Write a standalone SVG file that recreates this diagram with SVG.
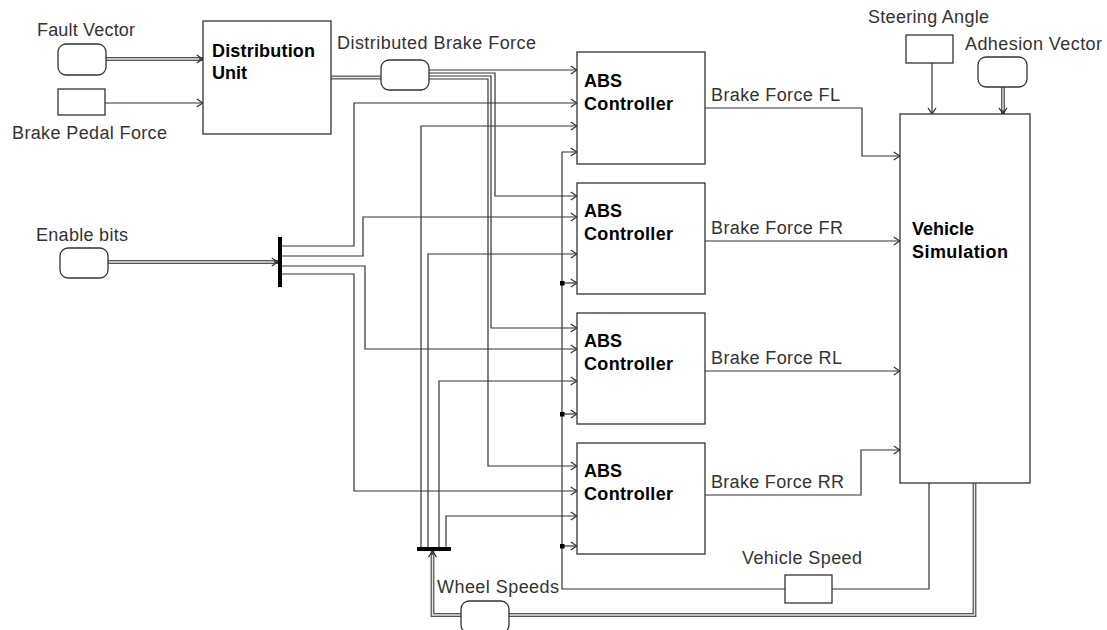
<svg xmlns="http://www.w3.org/2000/svg" width="1107" height="630" viewBox="0 0 1107 630">
<defs>
<marker id="arr" markerUnits="userSpaceOnUse" markerWidth="10" markerHeight="10" viewBox="0 0 10 10" refX="9.2" refY="5" orient="auto">
<path d="M3,1 L9,5 L3,9" fill="none" stroke="#333" stroke-width="1.2"/>
</marker>
</defs>
<style>
.bg{fill:#fff}
.blk{fill:#fff;stroke:#333;stroke-width:1.3}
.w{fill:none;stroke:#333;stroke-width:1.2}
.dbo{fill:none;stroke:#555;stroke-width:3.8}
.dbi{fill:none;stroke:#e6e6e6;stroke-width:1.3}
.bar{fill:#000}
.dot{fill:#000}
.lbl{font-family:"Liberation Sans",Arial,sans-serif;font-size:18px;fill:#333}
.bt{font-family:"Liberation Sans",Arial,sans-serif;font-size:18px;font-weight:bold;fill:#000}
</style>
<rect class="bg" x="0" y="0" width="1107" height="630"/>

<g id="connectors">
<path class="dbo" d="M106,59 H203" marker-end="url(#arr)"/>
<path class="dbi" d="M106,59 H199"/>
<path class="w" d="M105,103 H203" marker-end="url(#arr)"/>
<path class="dbo" d="M331,77.5 H381"/>
<path class="dbi" d="M331,77.5 H381"/>
<path class="w" d="M429,70 H577" marker-end="url(#arr)"/>
<path class="w" d="M429,73 H495 V196 H577" marker-end="url(#arr)"/>
<path class="w" d="M429,76 H491 V328 H577" marker-end="url(#arr)"/>
<path class="w" d="M429,79 H488 V466 H577" marker-end="url(#arr)"/>
<path class="dbo" d="M108,262 H278" marker-end="url(#arr)"/>
<path class="dbi" d="M108,262 H274"/>
<path class="w" d="M282,246 H354 V103 H577" marker-end="url(#arr)"/>
<path class="w" d="M282,256 H363 V217 H577" marker-end="url(#arr)"/>
<path class="w" d="M282,266 H365 V349 H577" marker-end="url(#arr)"/>
<path class="w" d="M282,274 H354 V491 H577" marker-end="url(#arr)"/>
<path class="w" d="M421,547 V126 H577" marker-end="url(#arr)"/>
<path class="w" d="M428,547 V254 H577" marker-end="url(#arr)"/>
<path class="w" d="M439,547 V381 H577" marker-end="url(#arr)"/>
<path class="w" d="M446,547 V516 H577" marker-end="url(#arr)"/>
<path class="dbo" d="M974.5,483 V615 H509"/>
<path class="dbi" d="M974.5,483 V615 H509"/>
<path class="dbo" d="M461,615 H432.5 V551" marker-end="url(#arr)"/>
<path class="dbi" d="M461,615 H432.5 V555"/>
<path class="w" d="M929,483 V589 H832"/>
<path class="w" d="M785,589 H562 V152 H577" marker-end="url(#arr)"/>
<path class="w" d="M562,283 H577" marker-end="url(#arr)"/>
<path class="w" d="M562,414 H577" marker-end="url(#arr)"/>
<path class="w" d="M562,546 H577" marker-end="url(#arr)"/>
<rect class="dot" x="560" y="281" width="4.5" height="4.5"/>
<rect class="dot" x="560" y="412" width="4.5" height="4.5"/>
<rect class="dot" x="560" y="544" width="4.5" height="4.5"/>
<path class="w" d="M705,108 H862 V156 H900" marker-end="url(#arr)"/>
<path class="w" d="M705,241 H900" marker-end="url(#arr)"/>
<path class="w" d="M705,371 H900" marker-end="url(#arr)"/>
<path class="w" d="M705,495 H861 V450 H900" marker-end="url(#arr)"/>
<path class="w" d="M932,63 V114" marker-end="url(#arr)"/>
<path class="dbo" d="M1003,87 V114" marker-end="url(#arr)"/>
<path class="dbi" d="M1003,87 V110"/>
</g>

<g id="fault-vector">
<rect class="blk" x="58" y="44" width="48" height="31" rx="8"/>
<text class="lbl" x="37" y="36" textLength="98">Fault Vector</text>
</g>
<g id="brake-pedal-force">
<rect class="blk" x="58" y="89" width="47" height="26"/>
<text class="lbl" x="12" y="139" textLength="155">Brake Pedal Force</text>
</g>
<g id="distribution-unit">
<rect class="blk" x="203" y="21" width="128" height="113"/>
<text class="bt" x="212" y="57" textLength="103">Distribution</text>
<text class="bt" x="212" y="79">Unit</text>
</g>
<g id="distributed-brake-force">
<rect class="blk" x="381" y="60" width="48" height="30" rx="8"/>
<text class="lbl" x="337" y="49" textLength="199">Distributed Brake Force</text>
</g>
<g id="enable-bits">
<rect class="blk" x="60" y="248" width="48" height="30" rx="8"/>
<text class="lbl" x="36" y="241" textLength="92">Enable bits</text>
</g>
<g id="enable-demux">
<rect class="bar" x="278" y="237" width="4" height="50"/>
</g>
<g id="abs-fl">
<rect class="blk" x="577" y="52" width="128" height="112"/>
<text class="bt" x="584" y="87">ABS</text>
<text class="bt" x="584" y="110" textLength="89">Controller</text>
</g>
<g id="abs-fr">
<rect class="blk" x="577" y="183" width="128" height="111"/>
<text class="bt" x="584" y="217">ABS</text>
<text class="bt" x="584" y="240" textLength="89">Controller</text>
</g>
<g id="abs-rl">
<rect class="blk" x="577" y="313" width="128" height="111"/>
<text class="bt" x="584" y="347">ABS</text>
<text class="bt" x="584" y="370" textLength="89">Controller</text>
</g>
<g id="abs-rr">
<rect class="blk" x="577" y="443" width="128" height="111"/>
<text class="bt" x="584" y="477">ABS</text>
<text class="bt" x="584" y="500" textLength="89">Controller</text>
</g>
<g id="brake-force-labels">
<text class="lbl" x="711" y="101" textLength="129">Brake Force FL</text>
<text class="lbl" x="711" y="234" textLength="132">Brake Force FR</text>
<text class="lbl" x="711" y="364" textLength="131">Brake Force RL</text>
<text class="lbl" x="711" y="488" textLength="133">Brake Force RR</text>
</g>
<g id="steering-angle">
<rect class="blk" x="906" y="35" width="47" height="28"/>
<text class="lbl" x="868" y="23" textLength="121">Steering Angle</text>
</g>
<g id="adhesion-vector">
<rect class="blk" x="978" y="57" width="49" height="30" rx="8"/>
<text class="lbl" x="965" y="50" textLength="137">Adhesion Vector</text>
</g>
<g id="vehicle-simulation">
<rect class="blk" x="900" y="114" width="130" height="369"/>
<text class="bt" x="912" y="235">Vehicle</text>
<text class="bt" x="912" y="258" textLength="96">Simulation</text>
</g>
<g id="vehicle-speed">
<rect class="blk" x="785" y="575" width="47" height="28"/>
<text class="lbl" x="742" y="564" textLength="120">Vehicle Speed</text>
</g>
<g id="wheel-speeds">
<rect class="blk" x="461" y="601" width="48" height="32" rx="8"/>
<text class="lbl" x="437" y="593" textLength="122">Wheel Speeds</text>
</g>
<g id="wheel-demux">
<rect class="bar" x="417" y="547" width="34" height="4"/>
</g>
</svg>
